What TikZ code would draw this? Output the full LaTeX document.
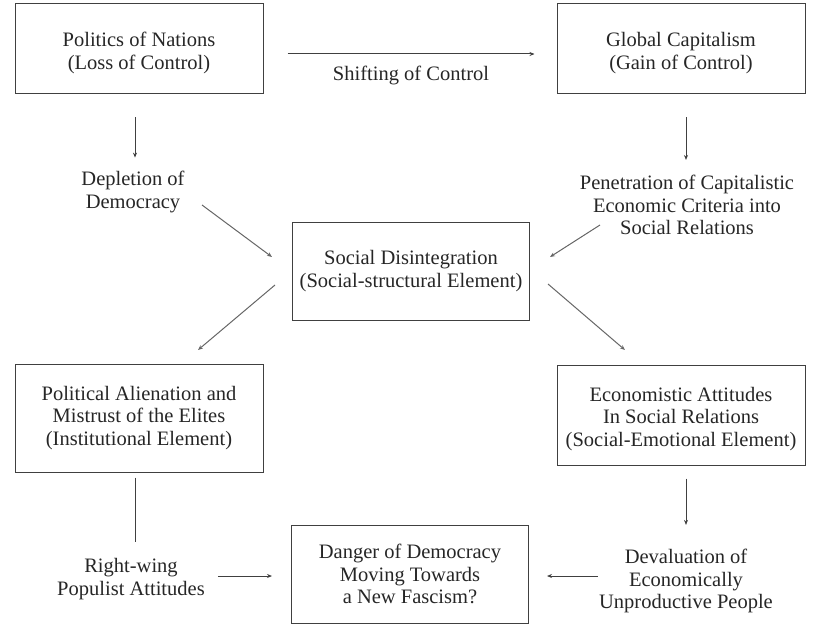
\documentclass[tikz,border=0pt]{standalone}
\usepackage{fontspec}
\setmainfont{Liberation Serif}
\usetikzlibrary{arrows.meta,calc}
\begin{document}
\begin{tikzpicture}[x=1pt,y=-1pt,
  every node/.style={font=\fontsize{20.5}{22.5}\selectfont, text=black!85, align=center, inner sep=0pt},
  every label/.style={font=\fontsize{20.5}{22.5}\selectfont, text=black!85, align=center, inner sep=0pt},
  box/.style={draw=black!75, line width=1pt, minimum width=248pt, minimum height=#1},
  box/.default=90pt,
  boxtext/.style={label={[yshift=-4pt]center:#1}},
  link/.style={draw=black!75, line width=1pt},
  arr/.style={link, -{Stealth[length=5pt,width=4pt]}},
  diag/.style={arr, draw=black!60}
]
\useasboundingbox (0,0) rectangle (815,626);

% top row
\node[box=90pt, boxtext={Politics of Nations\\(Loss of Control)}] (nations) at (139,49) {};
\node[box=90pt, boxtext={Global Capitalism\\(Gain of Control)}] (capital) at (681,49) {};
\node (shiftlbl) at (411,75) {Shifting of Control};

% effects of the shift
\node (depletion) at (133,192) {Depletion of\\Democracy};
\node (penetration) at (687,205) {Penetration of Capitalistic\\Economic Criteria into\\Social Relations};

% centre
\node[box=98pt, minimum width=237pt] (disint) at (411,271) {Social Disintegration\\(Social-structural Element)};

% middle row
\node[box=108pt] (alienation) at (139,418) {Political Alienation and\\Mistrust of the Elites\\(Institutional Element)};
\node[box=100pt, boxtext={Economistic Attitudes\\In Social Relations\\(Social-Emotional Element)}] (economism) at (681,415) {};

% bottom row
\node (rightwing) at (131,579) {Right-wing\\Populist Attitudes};
\node[box=98pt, minimum width=237pt] (fascism) at (410,574) {Danger of Democracy\\Moving Towards\\a New Fascism?};
\node (devaluation) at (686,581) {Devaluation of\\Economically\\Unproductive People};

% free ends of the diagonal arrows
\coordinate (d1a) at (202,205);
\coordinate (d1b) at (272,257);
\coordinate (d2a) at (600,225);
\coordinate (d2b) at (550,257);
\coordinate (d3a) at (275,285);
\coordinate (d3b) at (198,350);
\coordinate (d4a) at (548,284);
\coordinate (d4b) at (625,350);

% connectors
\draw[arr, shorten <=24pt, shorten >=22pt] ([yshift=-5pt]nations.east) -- ([yshift=-5pt]capital.west);
\draw[arr, shorten <=23pt, shorten >=13.5pt] ([xshift=-4pt]nations.south) -- ([xshift=-4pt]nations.south |- depletion.north);
\draw[arr, shorten <=23pt, shorten >=15pt] ([xshift=5pt]capital.south) -- ([xshift=5pt]capital.south |- penetration.north);

\draw[diag] (d1a) -- (d1b);
\draw[diag] (d2a) -- (d2b);
\draw[diag] (d3a) -- (d3b);
\draw[diag] (d4a) -- (d4b);

\draw[link, shorten <=5pt, shorten >=16.5pt] ([xshift=-4pt]alienation.south) -- ([xshift=-4pt]alienation.south |- rightwing.north);
\draw[arr, shorten <=13pt, shorten >=24pt] ([xshift=5pt]economism.south) -- ([xshift=5pt]economism.south |- devaluation.north);

\draw[arr, shorten <=13pt, shorten >=19pt] ([yshift=3pt]rightwing.east) -- ([yshift=3pt]rightwing.east -| fascism.west);
\draw[arr, shorten <=1pt, shorten >=18pt] ([yshift=5pt]devaluation.west) -- ([yshift=5pt]devaluation.west -| fascism.east);
\end{tikzpicture}
\end{document}
